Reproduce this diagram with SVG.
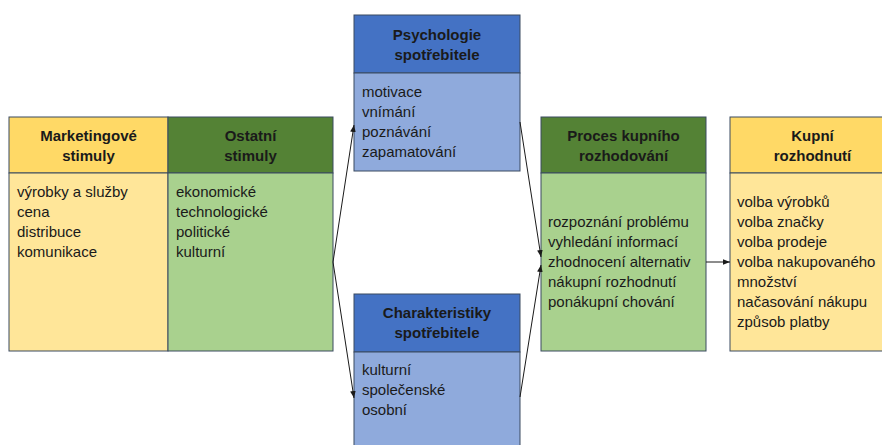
<svg xmlns="http://www.w3.org/2000/svg" width="882" height="445" viewBox="0 0 882 445">
<defs>
<style>
.box{stroke:#3a4a60;stroke-width:1}
.yh{fill:#FFD966}.yb{fill:#FFE699}
.gh{fill:#548235}.gb{fill:#A9D18E}
.bh{fill:#4472C4}.bb{fill:#8FAADC}
text{font-family:"Liberation Sans",Arial,sans-serif;font-size:15px;fill:#1a1a1a}
.h{font-weight:bold;text-anchor:middle}
.c{stroke:#1a1a1a;stroke-width:1;fill:none}
</style>
<marker id="ah" viewBox="0 0 10 10" refX="10" refY="5" markerWidth="7" markerHeight="7" orient="auto" markerUnits="userSpaceOnUse">
<path d="M0,1 L10,5 L0,9 z" fill="#1a1a1a"/>
</marker>
</defs>
<rect width="882" height="445" fill="#ffffff"/>

<g id="marketingove">
<rect class="box yh" x="9" y="117" width="159" height="56"/>
<rect class="box yb" x="9" y="173" width="159" height="178"/>
<text class="h" x="88.5" y="141">Marketingové</text>
<text class="h" x="88.5" y="161">stimuly</text>
<text x="17" y="197">výrobky a služby</text>
<text x="17" y="217">cena</text>
<text x="17" y="237">distribuce</text>
<text x="17" y="257">komunikace</text>
</g>

<g id="ostatni">
<rect class="box gh" x="168" y="117" width="165" height="56"/>
<rect class="box gb" x="168" y="173" width="165" height="178"/>
<text class="h" x="250.5" y="141">Ostatní</text>
<text class="h" x="250.5" y="161">stimuly</text>
<text x="176" y="197">ekonomické</text>
<text x="176" y="217">technologické</text>
<text x="176" y="237">politické</text>
<text x="176" y="257">kulturní</text>
</g>

<g id="psychologie">
<rect class="box bh" x="354" y="15" width="166" height="58"/>
<rect class="box bb" x="354" y="73" width="166" height="98"/>
<text class="h" x="437" y="40">Psychologie</text>
<text class="h" x="437" y="60">spotřebitele</text>
<text x="362" y="97">motivace</text>
<text x="362" y="117">vnímání</text>
<text x="362" y="137">poznávání</text>
<text x="362" y="157">zapamatování</text>
</g>

<g id="charakteristiky">
<rect class="box bh" x="354" y="294" width="166" height="58"/>
<rect class="box bb" x="354" y="352" width="166" height="100"/>
<text class="h" x="437" y="318">Charakteristiky</text>
<text class="h" x="437" y="338">spotřebitele</text>
<text x="362" y="375">kulturní</text>
<text x="362" y="395">společenské</text>
<text x="362" y="415">osobní</text>
</g>

<g id="proces">
<rect class="box gh" x="541" y="117" width="165" height="56"/>
<rect class="box gb" x="541" y="173" width="165" height="178"/>
<text class="h" x="623.5" y="141">Proces kupního</text>
<text class="h" x="623.5" y="161">rozhodování</text>
<text x="548" y="227">rozpoznání problému</text>
<text x="548" y="247">vyhledání informací</text>
<text x="548" y="267">zhodnocení alternativ</text>
<text x="548" y="287">nákupní rozhodnutí</text>
<text x="548" y="307">ponákupní chování</text>
</g>

<g id="kupni">
<rect class="box yh" x="730" y="117" width="165" height="56"/>
<rect class="box yb" x="730" y="173" width="165" height="178"/>
<text class="h" x="812.5" y="141">Kupní</text>
<text class="h" x="812.5" y="161">rozhodnutí</text>
<text x="737" y="207">volba výrobků</text>
<text x="737" y="227">volba značky</text>
<text x="737" y="247">volba prodeje</text>
<text x="737" y="267">volba nakupovaného</text>
<text x="737" y="287">množství</text>
<text x="737" y="307">načasování nákupu</text>
<text x="737" y="327">způsob platby</text>
</g>

<g id="connectors">
<line class="c" x1="333" y1="262" x2="354" y2="125" marker-end="url(#ah)"/>
<line class="c" x1="333" y1="262" x2="354" y2="398" marker-end="url(#ah)"/>
<line class="c" x1="520" y1="122" x2="541" y2="257" marker-end="url(#ah)"/>
<line class="c" x1="520" y1="397" x2="541" y2="265" marker-end="url(#ah)"/>
<line class="c" x1="706" y1="262" x2="730" y2="262" marker-end="url(#ah)"/>
</g>
</svg>
